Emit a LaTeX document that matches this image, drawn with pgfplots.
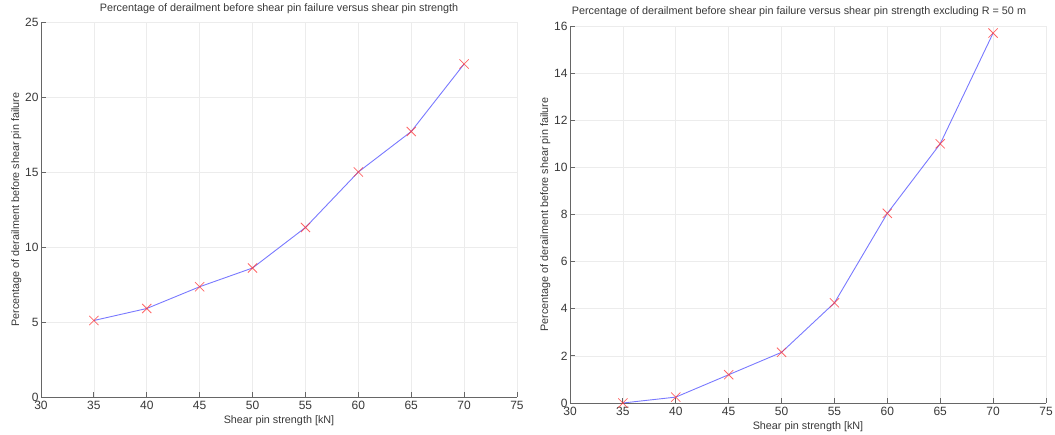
\documentclass[border=0pt]{standalone}
\usepackage{pgfplots}
\pgfplotsset{compat=1.18}
\usepackage{fontspec}
\setmainfont{Liberation Sans}
\definecolor{axgray}{gray}{0.4}
\definecolor{txtgray}{gray}{0.22}
\pgfplotsset{
  myaxis/.style={
    scale only axis,
    width=476pt,
    axis x line=bottom, axis y line=left,
    axis line style={axgray, line width=0.8pt, -},
    tick style={axgray, line width=0.8pt},
    tick align=inside,
    major tick length=5pt,
    xmin=30, xmax=75, ymin=0,
    xtick={30,35,...,75},
    grid=major,
    major grid style={gray!15, line width=0.6pt},
    /pgf/number format/assume math mode=true,
    ticklabel style={font=\fontsize{12}{14}\selectfont, text=txtgray},
    label style={font=\fontsize{10.8}{13}\selectfont, text=txtgray},
    title style={font=\fontsize{10.8}{13}\selectfont, text=txtgray},
    xtick pos=bottom, ytick pos=left,
    xticklabel style={yshift=-0.5pt},
    yticklabel style={xshift=1pt},
    xlabel={Shear pin strength [kN]},
    ylabel={Percentage of derailment before shear pin failure},
    clip=false,
  },
  myline/.style={blue!75, line width=0.9pt, opacity=0.7,
    mark=x, mark size=6.5pt,
    mark options={red!80, opacity=0.75, line width=0.8pt}},
}
\begin{document}
\begin{tikzpicture}
\useasboundingbox (-41pt,-38pt) rectangle (1014pt,397pt);
\begin{axis}[myaxis,
  at={(0pt,0pt)}, anchor=south west,
  height=375pt,
  ymax=25, ytick={0,5,...,25},
  title={Percentage of derailment before shear pin failure versus shear pin strength},
  title style={at={(0.5,1)}, yshift=-1pt},
  ylabel style={yshift=-3pt},
  xlabel style={yshift=1pt},
]
\addplot[myline] coordinates {
(35,5.1) (40,5.9) (45,7.35) (50,8.6) (55,11.3) (60,15.0) (65,17.7) (70,22.2)
};
\end{axis}
\begin{axis}[myaxis,
  at={(529pt,-6pt)}, anchor=south west,
  height=377pt,
  ymax=16, ytick={0,2,...,16},
  title={Percentage of derailment before shear pin failure versus shear pin strength excluding R = 50 m},
  title style={at={(0.5,1)}, yshift=0pt, xshift=-9pt},
  ylabel style={yshift=-3pt},
  xlabel style={yshift=1pt},
]
\addplot[myline] coordinates {
(35,0) (40,0.25) (45,1.2) (50,2.15) (55,4.25) (60,8.05) (65,11.0) (70,15.7)
};
\end{axis}
\end{tikzpicture}
\end{document}
